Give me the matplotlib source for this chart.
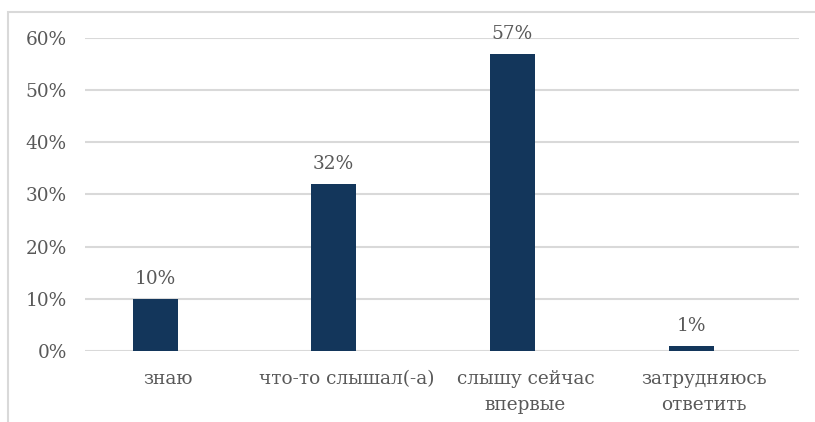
import matplotlib.pyplot as plt
import matplotlib.ticker as ticker
from matplotlib.patches import Rectangle
from matplotlib.transforms import ScaledTranslation

categories = ["знаю", "что-то слышал(-а)", "слышу сейчас\nвпервые", "затрудняюсь\nответить"]
values = [10, 32, 57, 1]
value_labels = ["10%", "32%", "57%", "1%"]
yticks = [0, 10, 20, 30, 40, 50, 60]

TEXT = "#595959"
BAR = "#13365B"
GRID = "#D9D9D9"

plt.rcParams["font.family"] = ["DejaVu Serif"]

fig = plt.figure(figsize=(8.15, 4.22), dpi=100)
W, H = 815, 422
ax = fig.add_axes([85 / W, 1 - 351 / H, 714 / W, (351 - 38) / H])

x = range(len(categories))
ax.bar(x, values, width=0.252, color=BAR, zorder=3)
for xi, v, lab in zip(x, values, value_labels):
    ax.annotate(lab, (xi, v), xytext=(0, 8), textcoords="offset points",
                ha="center", va="bottom", color=TEXT, fontsize=13.3)

# category centres sit a bit left of the gridline span, as in the source chart
ax.set_xlim(-0.392, 3.604)
ax.set_ylim(0, 60)
ax.set_yticks(yticks)
ax.yaxis.set_major_formatter(ticker.FuncFormatter(lambda v, _: f"{int(v)}%"))
ax.set_xticks(list(x))
ax.set_xticklabels(categories, linespacing=1.55)
ax.tick_params(axis="both", length=0, colors=TEXT, labelsize=13.3)
ax.tick_params(axis="x", pad=14)
ax.tick_params(axis="y", pad=13)
ax.grid(axis="y", color=GRID, linewidth=1.5, zorder=0)
for s in ax.spines.values():
    s.set_visible(False)

# category labels are drawn slightly right of the bars in the source
shift = ScaledTranslation(13 / 100, 0, fig.dpi_scale_trans)
for lbl in ax.get_xticklabels():
    lbl.set_transform(lbl.get_transform() + shift)

# outer chart frame
fig.patches.append(Rectangle((8 / W, -0.1), 1.2, 1 - 12 / H + 0.1,
                             transform=fig.transFigure, fill=False,
                             edgecolor=GRID, linewidth=1.5))

fig.savefig("out.png", dpi=100)
